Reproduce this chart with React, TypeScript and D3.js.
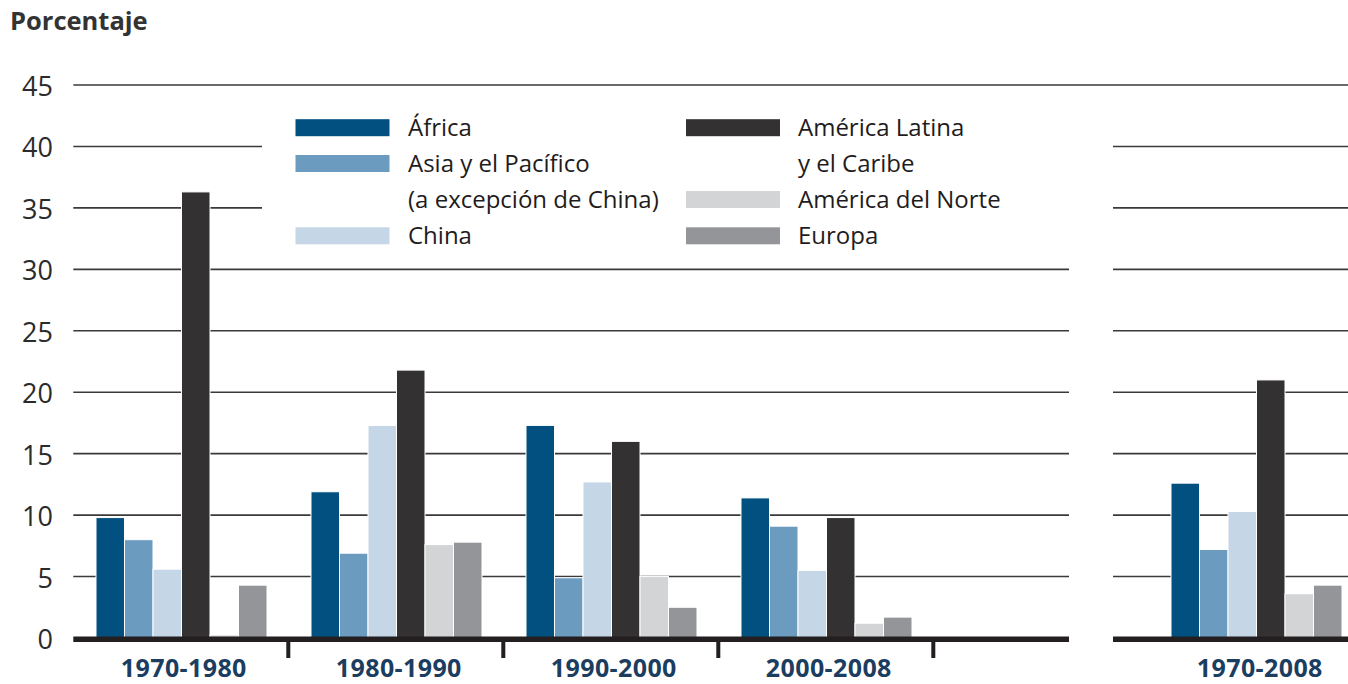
import * as d3 from "d3";

// periods on the left panel, plus the whole-span total on the right
const periods = ["1970-1980", "1980-1990", "1990-2000", "2000-2008"];
const totalLabel = "1970-2008";

const regionKeys = ["africa", "asia", "china", "latam", "northAm", "europe"];
const regionColors = ["#02507f", "#6b9bbf", "#c5d6e6", "#333132", "#d3d4d6", "#949599"];

// values per region, one per period, then the 1970-2008 value
const africa = [9.8, 11.9, 17.3, 11.4];
const asia = [8.0, 6.9, 4.9, 9.1];
const china = [5.6, 17.3, 12.7, 5.5];
const latam = [36.3, 21.8, 16.0, 9.8];
const northAm = [0.25, 7.6, 5.0, 1.2];
const europe = [4.3, 7.8, 2.5, 1.7];
const totals = [12.6, 7.2, 10.3, 21.0, 3.6, 4.3];

const yTicks = [0, 5, 10, 15, 20, 25, 30, 35, 40, 45];

const legendLeft = [
  { key: "africa", lines: ["África"] },
  { key: "asia", lines: ["Asia y el Pacífico", "(a excepción de China)"] },
  { key: "china", lines: ["China"] },
];
const legendRight = [
  { key: "latam", lines: ["América Latina", "y el Caribe"] },
  { key: "northAm", lines: ["América del Norte"] },
  { key: "europe", lines: ["Europa"] },
];

const FONT = "'Open Sans', 'Noto Sans', sans-serif";

export default function App() {
  const width = 1348;
  const height = 684;

  const seriesValues = [africa, asia, china, latam, northAm, europe];
  const color = d3.scaleOrdinal<string, string>().domain(regionKeys).range(regionColors);

  const y = d3.scaleLinear().domain([0, 45]).range([638, 85]);

  // left panel: four periods and one empty slot
  const leftStart = 73.3;
  const bandW = 215;
  const x0 = d3
    .scaleBand()
    .domain([...periods, "empty"])
    .range([leftStart, leftStart + bandW * 5]);
  const leftEnd = 1069;

  // right panel
  const rightStart = 1113;
  const xr = d3.scaleBand().domain([totalLabel]).range([1148.3, 1148.3 + bandW]);

  const x1 = d3.scaleBand().domain(regionKeys).range([22.7, 22.7 + 171]);

  const gridColor = "#3a3a3a";
  const axisColor = "#231f20";

  const legendRows = [127.7, 163.5, 199.5, 235.8];
  const legendBox = { x: 262, y: 97, w: 1113 - 262, h: 159 };

  const renderLegend = (
    items: { key: string; lines: string[] }[],
    swatchX: number,
    textX: number
  ) => {
    let row = 0;
    return items.map((it) => {
      const r0 = row;
      row += it.lines.length;
      return (
        <g key={it.key}>
          <rect
            x={swatchX}
            y={legendRows[r0] - 8.5}
            width={94}
            height={17}
            fill={color(it.key)}
          />
          {it.lines.map((ln, j) => (
            <text
              key={ln}
              x={textX}
              y={legendRows[r0 + j] + 8.5}
              fontSize={24}
              fill="#1f1c1d"
            >
              {ln}
            </text>
          ))}
        </g>
      );
    });
  };

  return (
    <svg
      width={width}
      height={height}
      style={{ display: "block", background: "#fff", fontFamily: FONT }}
    >
      <style>{`body { margin: 0; }`}</style>

      <text x={10} y={30} fontSize={25.5} fontWeight={700} fill="#333">
        Porcentaje
      </text>

      {/* gridlines */}
      {yTicks
        .filter((t) => t > 0)
        .map((t) =>
          t === 45 ? (
            <line
              key={t}
              x1={leftStart}
              x2={width}
              y1={y(t)}
              y2={y(t)}
              stroke={gridColor}
              strokeWidth={1.6}
            />
          ) : (
            <g key={t}>
              <line x1={leftStart} x2={leftEnd} y1={y(t)} y2={y(t)} stroke={gridColor} strokeWidth={1.6} />
              <line x1={rightStart} x2={width} y1={y(t)} y2={y(t)} stroke={gridColor} strokeWidth={1.6} />
            </g>
          )
        )}

      {/* y tick labels */}
      {yTicks.map((t) => (
        <text
          key={t}
          x={53}
          y={y(t) + 11}
          textAnchor="end"
          fontSize={27}
          fill="#2b2b2b"
        >
          {t}
        </text>
      ))}

      {/* legend */}
      <rect x={legendBox.x} y={legendBox.y} width={legendBox.w} height={legendBox.h} fill="#fff" />
      {renderLegend(legendLeft, 295.5, 408)}
      {renderLegend(legendRight, 686, 798)}

      {/* bars, left panel */}
      {periods.map((p, i) => (
        <g key={p} transform={`translate(${x0(p)},0)`}>
          {regionKeys.map((k, s) => {
            const v = seriesValues[s][i];
            return (
              <rect
                key={k}
                x={x1(k)}
                y={y(v)}
                width={x1.bandwidth()}
                height={y(0) - y(v)}
                fill={color(k)}
                stroke="#fff"
                strokeWidth={1}
              />
            );
          })}
        </g>
      ))}

      {/* bars, right panel */}
      <g transform={`translate(${xr(totalLabel)},0)`}>
        {regionKeys.map((k, s) => {
          const v = totals[s];
          return (
            <rect
              key={k}
              x={x1(k)}
              y={y(v)}
              width={x1.bandwidth()}
              height={y(0) - y(v)}
              fill={color(k)}
              stroke="#fff"
              strokeWidth={1}
            />
          );
        })}
      </g>

      {/* baselines */}
      <rect x={leftStart} y={636.5} width={leftEnd - leftStart} height={5.5} fill={axisColor} />
      <rect x={rightStart} y={636.5} width={width - rightStart} height={5.5} fill={axisColor} />

      {/* separator ticks between periods */}
      {periods.map((p) => (
        <rect
          key={p}
          x={(x0(p) ?? 0) + bandW - 2}
          y={641}
          width={4}
          height={17}
          fill={axisColor}
        />
      ))}

      {/* category labels */}
      {periods.map((p) => (
        <text
          key={p}
          x={(x0(p) ?? 0) + bandW / 2 + 3}
          y={677}
          textAnchor="middle"
          fontSize={25}
          fontWeight={700}
          letterSpacing={0.4}
          fill="#1b3d60"
        >
          {p}
        </text>
      ))}
      <text
        x={(xr(totalLabel) ?? 0) + bandW / 2 + 4}
        y={677}
        textAnchor="middle"
        fontSize={25}
        fontWeight={700}
        letterSpacing={0.4}
        fill="#1b3d60"
      >
        {totalLabel}
      </text>
    </svg>
  );
}
